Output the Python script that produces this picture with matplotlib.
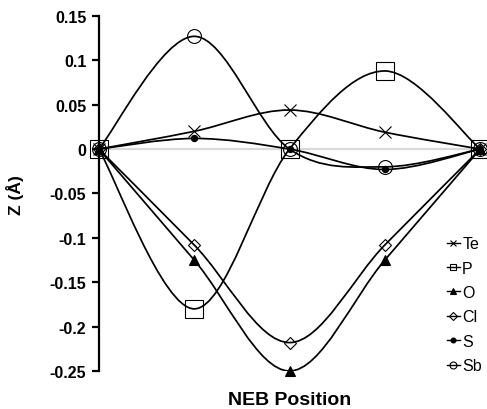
import numpy as np
import matplotlib
matplotlib.use("Agg")
import matplotlib.pyplot as plt
from matplotlib.path import Path
from matplotlib.patches import PathPatch
from matplotlib.lines import Line2D

plt.rcParams['font.family'] = ['Liberation Sans', 'DejaVu Sans']

positions = [0, 1, 2, 3, 4]
names = ['Te', 'P', 'O', 'Cl', 'S', 'Sb']
te = [0, 0.020, 0.044, 0.019, 0]
p = [0, -0.180, 0, 0.088, 0]
o = [0, -0.125, -0.250, -0.125, 0]
cl = [0, -0.108, -0.218, -0.108, 0]
s = [0, 0.012, 0, -0.023, 0]
sb = [0, 0.127, 0, -0.020, 0]
series = [te, p, o, cl, s, sb]

# marker styles: (marker, size, face)
styles = [('x', 9, 'none'), ('s', 13, 'none'), ('^', 7, 'black'),
          ('D', 6, 'none'), ('o', 4.5, 'black'), ('o', 10, 'none')]
leg_styles = [('x', 5, 'none'), ('s', 5, 'none'), ('^', 5, 'black'),
              ('D', 4, 'none'), ('o', 3.5, 'black'), ('o', 5, 'none')]


def smooth_path(x, y, t=1/6):
    # Excel-like smoothed line as cubic Bezier segments through the points
    pts = np.column_stack([x, y]).astype(float)
    n = len(pts)
    verts = [pts[0]]
    codes = [Path.MOVETO]
    for i in range(n - 1):
        p0 = pts[i - 1] if i > 0 else pts[i]
        p1 = pts[i]
        p2 = pts[i + 1]
        p3 = pts[i + 2] if i + 2 < n else pts[i + 1]
        c1 = p1 + (p2 - p0) * t
        c2 = p2 - (p3 - p1) * t
        verts += [c1, c2, p2]
        codes += [Path.CURVE4] * 3
    return Path(verts, codes)


fig = plt.figure(figsize=(4.87, 4.10), dpi=100)
ax = fig.add_axes([0.203, 0.0927, 0.783, 0.866])

ax.axhline(0, color='#d9d9d9', lw=1.6, zorder=0)

for vals, (m, ms, fc) in zip(series, styles):
    ax.add_patch(PathPatch(smooth_path(positions, vals), fill=False,
                           edgecolor='black', lw=1.25, zorder=2))
    ax.plot(positions, vals, ls='none', marker=m, ms=ms, mfc=fc,
            mec='black', mew=0.8, zorder=3, clip_on=False)

ax.set_xlim(0, 4)
ax.set_ylim(-0.25, 0.15)
ax.set_yticks([-0.25, -0.2, -0.15, -0.1, -0.05, 0, 0.05, 0.1, 0.15])
ax.set_yticklabels(['-0.25', '-0.2', '-0.15', '-0.1', '-0.05', '0',
                    '0.05', '0.1', '0.15'], fontsize=11.5, fontweight='bold')
ax.set_xticks([])
for sp in ['top', 'right', 'bottom']:
    ax.spines[sp].set_visible(False)
ax.spines['left'].set_linewidth(1.6)
ax.tick_params(axis='y', direction='out', length=5, width=1.6, pad=4)

fig.text(0.031, 0.524, 'Z (Å)', fontsize=12.5, fontweight='bold',
         rotation=90, ha='center', va='center')
fig.text(0.595, 0.022, 'NEB Position', fontsize=14, fontweight='bold',
         ha='center', va='center')

handles = [Line2D([], [], color='black', lw=1.0, marker=m, ms=ms, mfc=fc,
                  mec='black', mew=0.8) for (m, ms, fc) in leg_styles]
fig.legend(handles, names, loc='lower left', bbox_to_anchor=(0.918, 0.087),
           frameon=False, fontsize=11.5, handlelength=0.8, handletextpad=0.15,
           labelspacing=0.59, borderaxespad=0, borderpad=0)

fig.savefig('out.png', dpi=100)
